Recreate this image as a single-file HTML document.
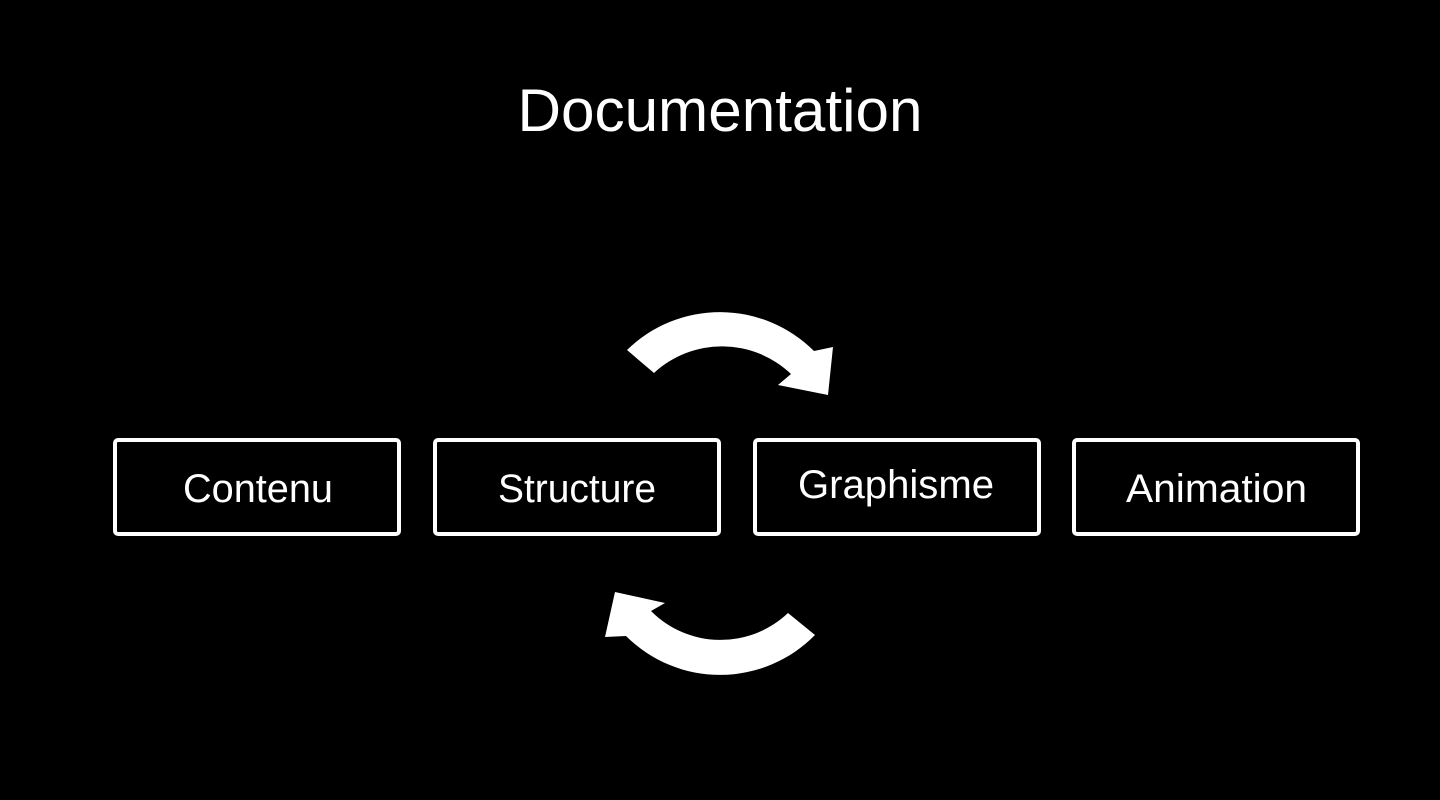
<!DOCTYPE html>
<html><head><meta charset="utf-8"><style>
html,body{margin:0;padding:0;background:#000;}
svg{display:block}
text{font-family:"Liberation Sans",sans-serif;fill:#fff}
</style></head><body>
<svg width="1440" height="800" viewBox="0 0 1440 800">
<rect width="1440" height="800" fill="#000"/>
<text x="720" y="131" font-size="60" text-anchor="middle" textLength="405" lengthAdjust="spacingAndGlyphs">Documentation</text>
<g fill="none" stroke="#fff" stroke-width="4">
<rect x="115" y="440" width="284" height="94" rx="3"/>
<rect x="435" y="440" width="284" height="94" rx="3"/>
<rect x="755" y="440" width="284" height="94" rx="3"/>
<rect x="1074" y="440" width="284" height="94" rx="3"/>
</g>
<g font-size="40">
<text x="183" y="502" textLength="150" lengthAdjust="spacingAndGlyphs">Contenu</text>
<text x="498" y="502" textLength="158" lengthAdjust="spacingAndGlyphs">Structure</text>
<text x="798" y="498" textLength="196" lengthAdjust="spacingAndGlyphs">Graphisme</text>
<text x="1126" y="502" textLength="181" lengthAdjust="spacingAndGlyphs">Animation</text>
</g>
<path fill="#fff" d="M627,350 A133 133 0 0 1 814,351 L833,347 L828,395 L778,385 L791,374 A100 100 0 0 0 654,373 Z"/>
<path fill="#fff" d="M815,635 A133 133 0 0 1 626,636 L605,637 L615,592 L665,603 L651,611 A98 98 0 0 0 788,613 Z"/>
</svg>
</body></html>
